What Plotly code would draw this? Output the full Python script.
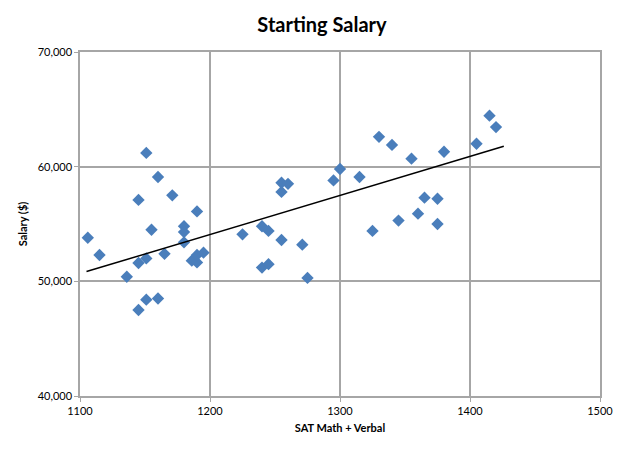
import plotly.graph_objects as go

sat = [1106, 1115, 1136, 1145, 1151, 1145, 1151, 1160, 1171, 1155, 1165, 1180, 1180, 1180,
       1190, 1186, 1190, 1190, 1195, 1151, 1160, 1145,
       1225, 1240, 1245, 1255, 1271, 1240, 1245, 1275, 1255, 1260, 1255, 1295, 1300,
       1315, 1330, 1340, 1355, 1380, 1405, 1415, 1420, 1325, 1345, 1360, 1365, 1375, 1375]
salary = [53800, 52300, 50400, 51600, 52000, 57100, 61200, 59100, 57500, 54500, 52400, 54800, 54300, 53400,
          56100, 51800, 51650, 52300, 52500, 48400, 48500, 47500,
          54100, 54800, 54400, 53600, 53200, 51200, 51500, 50300, 58600, 58500, 57800, 58800, 59800,
          59100, 62600, 61900, 60700, 61300, 62000, 64450, 63450, 54400, 55300, 55900, 57300, 57200, 55000]

trend_x = [1105, 1426]
trend_y = [50850, 61780]

fig = go.Figure()
fig.add_trace(go.Scatter(x=sat, y=salary, mode="markers",
                         marker=dict(symbol="diamond", size=9.5, color="#4a7ebb",
                                     line=dict(width=0)),
                         showlegend=False))
fig.add_trace(go.Scatter(x=trend_x, y=trend_y, mode="lines",
                         line=dict(color="black", width=1.5), showlegend=False))

grid = "#a6a6a6"
fig.update_layout(
    width=628, height=453,
    margin=dict(l=72, r=36, t=44, b=65),
    paper_bgcolor="white", plot_bgcolor="white",
    font=dict(family="Lato, Open Sans, sans-serif", size=11, color="black"),
    title=dict(text="<b>Starting Salary</b>", x=0.5, xanchor="center", y=0.962, yanchor="middle",
               font=dict(size=20, family="Lato, Open Sans, sans-serif")),
    xaxis=dict(range=[1100, 1500], dtick=100, tick0=1100, showgrid=True, gridcolor=grid, gridwidth=1.5,
               showline=True, linecolor=grid, linewidth=1.5, mirror=True, zeroline=False,
               ticks="outside", ticklen=4, tickcolor=grid,
               title=dict(text="<b>SAT Math + Verbal</b>", font=dict(size=11), standoff=8),
               tickfont=dict(size=11)),
    yaxis=dict(range=[40000, 70000], dtick=10000, showgrid=True, gridcolor=grid, gridwidth=1.5,
               showline=True, linecolor=grid, linewidth=1.5, mirror=True, zeroline=False,
               ticks="outside", ticklen=4, tickcolor=grid, tickformat=",",
               title=dict(text="<b>Salary ($)</b>", font=dict(size=11), standoff=8),
               tickfont=dict(size=11)),
)
fig.write_html("out.html")
